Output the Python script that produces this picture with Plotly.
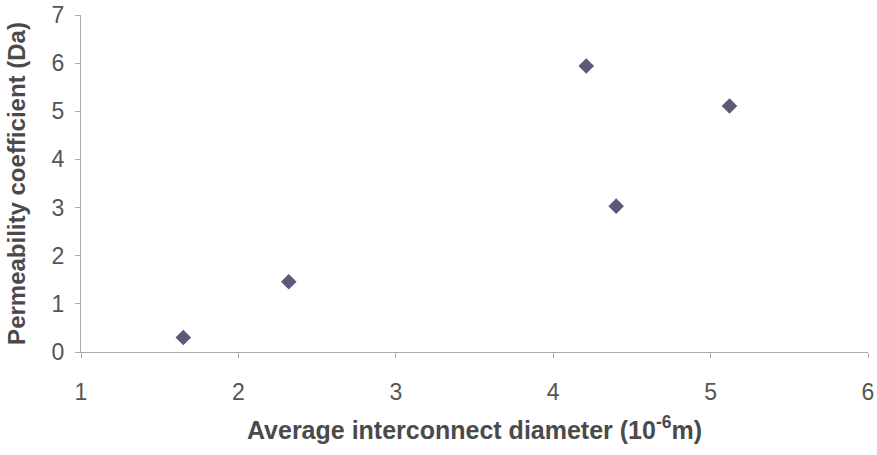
import plotly.graph_objects as go

diameter = [1.65, 2.32, 4.21, 4.40, 5.12]
permeability = [0.30, 1.46, 5.94, 3.03, 5.11]
x_ticks = [1, 2, 3, 4, 5, 6]
y_ticks = [0, 1, 2, 3, 4, 5, 6, 7]

fig = go.Figure()
fig.add_trace(go.Scatter(
    x=diameter, y=permeability, mode="markers",
    marker=dict(symbol="diamond", size=12, color="#5b5b78"),
    showlegend=False,
))

axis_font = dict(family="Liberation Sans, Arial, sans-serif", size=23, color="#555555")

fig.update_layout(
    width=877, height=455,
    margin=dict(l=81, r=9, t=15, b=103),
    paper_bgcolor="white", plot_bgcolor="white",
    xaxis=dict(
        range=[1, 6], tickvals=x_ticks, showgrid=False, zeroline=False,
        showline=True, linecolor="#aaaaaa", linewidth=1,
        ticks="outside", ticklen=5, tickcolor="#aaaaaa",
        tickfont=axis_font, ticklabelstandoff=14, automargin=False,
        title=dict(text="<b>Average interconnect diameter (10<sup>-6</sup>m)</b>",
                   font=dict(family="Liberation Sans, Arial, sans-serif", size=25, color="#4a4a4a"),
                   standoff=17),
    ),
    yaxis=dict(
        range=[0, 7], tickvals=y_ticks, showgrid=False, zeroline=False,
        showline=True, linecolor="#aaaaaa", linewidth=1,
        ticks="outside", ticklen=5, tickcolor="#aaaaaa",
        tickfont=axis_font, ticklabelstandoff=6, automargin=False,
        title=dict(text="<b>Permeability coefficient (Da)</b>",
                   font=dict(family="Liberation Sans, Arial, sans-serif", size=24, color="#4a4a4a"),
                   standoff=19),
    ),
)

fig.write_html(
    "out.html",
    config={"displayModeBar": False},
    post_script="document.body.style.margin='0';document.body.style.padding='0';",
)
